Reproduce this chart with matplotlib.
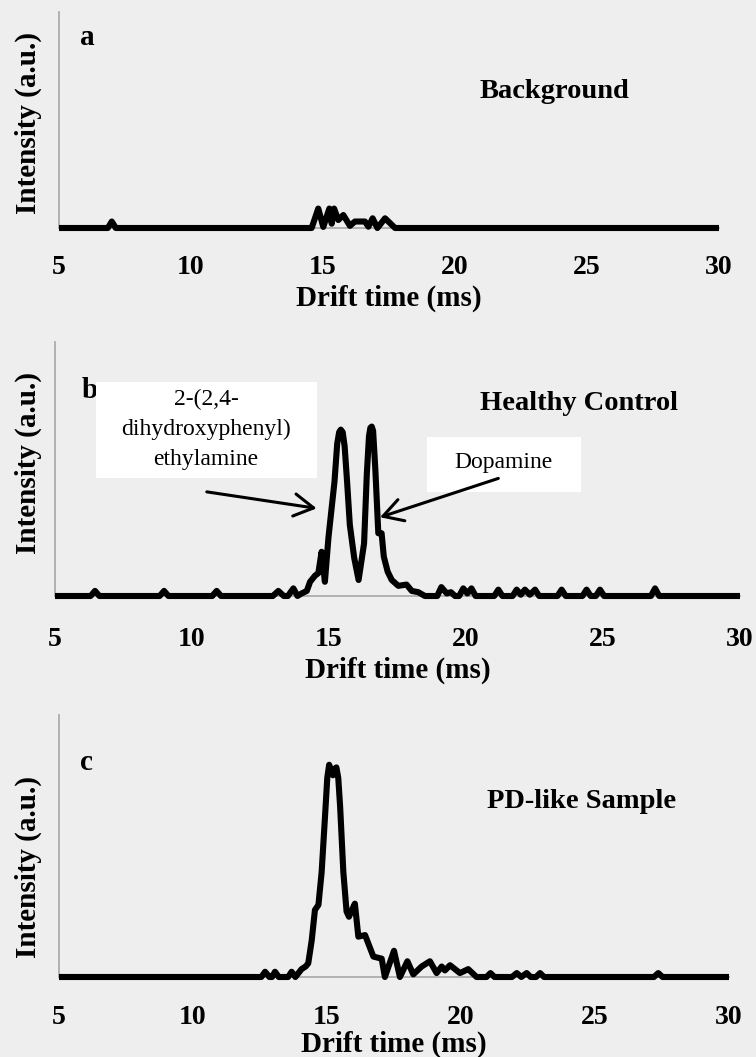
import matplotlib
matplotlib.use("Agg")
import matplotlib.pyplot as plt
from matplotlib.patches import Rectangle

plt.rcParams["font.family"] = ["Liberation Serif", "DejaVu Serif"]

# drift-time traces (ms, normalised intensity)
bg_time = [5.0, 6.85, 7.0, 7.15, 14.57, 14.82, 15.01, 15.24, 15.33, 15.42, 15.58,
           15.77, 16.02, 16.21, 16.59, 16.72, 16.88, 17.06, 17.35, 17.73, 30.0]
bg_int = [0, 0, 0.03, 0, 0, 0.09, 0.005, 0.09, 0.02, 0.09, 0.037,
          0.06, 0.01, 0.03, 0.03, 0.006, 0.045, 0, 0.045, 0, 0]

hc_time = [5.0, 6.3, 6.46, 6.62, 8.82, 8.98, 9.14, 10.74, 10.9, 11.06,
           12.95, 13.15, 13.35, 13.5, 13.7, 13.85, 14.0, 14.19, 14.31, 14.49,
           14.61, 14.73, 14.85, 14.98, 15.2, 15.3, 15.37, 15.43, 15.5, 15.57,
           15.66, 15.76, 15.92, 16.08, 16.28, 16.38, 16.46, 16.51, 16.56, 16.61,
           16.69, 16.80, 16.92, 17.0, 17.14, 17.29, 17.53, 17.83, 18.02, 18.26,
           18.5, 18.95, 19.1, 19.3, 19.45, 19.6, 19.75, 19.9, 20.05, 20.2,
           20.35, 21.03, 21.18, 21.33, 21.7, 21.85, 22.0, 22.15, 22.33, 22.52,
           22.67, 23.34, 23.49, 23.64, 24.25, 24.4, 24.55, 24.74, 24.89, 25.04,
           26.75, 26.9, 27.05, 30.0]
hc_int = [0, 0, 0.02, 0, 0, 0.02, 0, 0, 0.02, 0,
          0, 0.02, 0, 0, 0.03, 0, 0.01, 0.02, 0.056, 0.08,
          0.09, 0.174, 0.056, 0.23, 0.45, 0.6, 0.645, 0.655, 0.645, 0.59,
          0.45, 0.28, 0.15, 0.063, 0.207, 0.48, 0.63, 0.662, 0.667, 0.65,
          0.5, 0.247, 0.247, 0.155, 0.096, 0.063, 0.04, 0.045, 0.02, 0.015,
          0, 0, 0.035, 0.01, 0.015, 0, 0, 0.03, 0.01, 0.03,
          0, 0, 0.025, 0, 0, 0.025, 0.005, 0.025, 0.005, 0.025,
          0, 0, 0.025, 0, 0, 0.025, 0, 0, 0.025, 0,
          0, 0.03, 0, 0]

pd_time = [5.0, 12.55, 12.69, 12.85, 12.95, 13.06, 13.2, 13.55, 13.68, 13.82,
           14.05, 14.2, 14.3, 14.43, 14.55, 14.68, 14.8, 14.93, 15.01, 15.08,
           15.15, 15.22, 15.29, 15.35, 15.42, 15.49, 15.61, 15.73, 15.82, 15.95,
           16.04, 16.17, 16.42, 16.73, 17.04, 17.16, 17.5, 17.72, 18.0, 18.22,
           18.53, 18.84, 19.09, 19.28, 19.4, 19.59, 19.96, 20.27, 20.58, 20.95,
           21.1, 21.25, 21.9, 22.08, 22.25, 22.45, 22.6, 22.8, 22.95, 23.1,
           27.2, 27.36, 27.52, 30.0]
pd_int = [0, 0, 0.02, 0, 0, 0.02, 0, 0, 0.02, 0,
          0.03, 0.04, 0.052, 0.14, 0.256, 0.275, 0.40, 0.62, 0.76, 0.81,
          0.79, 0.77, 0.795, 0.80, 0.76, 0.65, 0.40, 0.25, 0.23, 0.26,
          0.28, 0.154, 0.16, 0.078, 0.07, 0.0, 0.10, 0.0, 0.06, 0.01,
          0.04, 0.06, 0.015, 0.04, 0.025, 0.045, 0.015, 0.03, 0, 0,
          0.015, 0, 0, 0.015, 0, 0.015, 0, 0, 0.015, 0,
          0, 0.015, 0, 0]

x_ticks = [5, 10, 15, 20, 25, 30]
panel_letters = ["a", "b", "c"]
panel_titles = ["Background", "Healthy Control", "PD-like Sample"]

W, H = 756, 1057
BG = "#eeeeee"
AXIS_GREY = "#a6a6a6"

fig = plt.figure(figsize=(W / 100, H / 100), dpi=100, facecolor=BG)


def px_axes(left, right, top, base):
    return fig.add_axes([left / W, (H - base) / H, (right - left) / W, (base - top) / H])


def style_axes(ax, tick_pad, xlab_off):
    ax.set_facecolor(BG)
    ax.set_xlim(5, 30)
    ax.set_ylim(0, 1)
    ax.set_xticks(x_ticks)
    ax.set_yticks([])
    for s in ("top", "right"):
        ax.spines[s].set_visible(False)
    for s in ("left", "bottom"):
        ax.spines[s].set_color(AXIS_GREY)
        ax.spines[s].set_linewidth(1.2)
        ax.spines[s].set_zorder(1)
    ax.tick_params(axis="x", length=0, pad=tick_pad, labelsize=20)
    for lab in ax.get_xticklabels():
        lab.set_fontweight("bold")
    ax.annotate("Drift time (ms)", xy=(0.5, 0), xycoords="axes fraction",
                xytext=(0, -xlab_off * 0.72), textcoords="offset points",
                ha="center", va="center", fontsize=21, fontweight="bold")


def trace(ax, t, y):
    ax.plot(t, y, color="black", linewidth=4.4, solid_joinstyle="round",
            solid_capstyle="butt", zorder=3, clip_on=False)


panels = [
    # left, right, top, baseline (px), tick pad, x-label offset, letter pos, title pos, ylabel centre
    (59, 719, 12, 228, 19.3, 70, (0.032, 0.847), (0.75, 0.602), 123),
    (55, 740, 342, 596, 22.2, 74, (0.039, 0.78), (0.765, 0.732), 463),
    (59, 729, 715, 977, 19.8, 67, (0.031, 0.79), (0.78, 0.645), 867),
]
series = [(bg_time, bg_int), (hc_time, hc_int), (pd_time, pd_int)]

axes = []
for (l, r, t, b, pad, xoff, lpos, tpos, yc), (tt, yy), letter, title in zip(
        panels, series, panel_letters, panel_titles):
    ax = px_axes(l, r, t, b)
    style_axes(ax, pad, xoff)
    trace(ax, tt, yy)
    ax.text(lpos[0], lpos[1], letter, transform=ax.transAxes, fontsize=21,
            fontweight="bold", ha="left", va="baseline")
    ax.text(tpos[0], tpos[1], title, transform=ax.transAxes, fontsize=20.5,
            fontweight="bold", ha="center", va="baseline")
    fig.text(28 / W, (H - yc) / H, "Intensity (a.u.)", rotation=90, fontsize=21,
             fontweight="bold", ha="center", va="center")
    axes.append(ax)

# compound labels on the healthy-control trace
axb = axes[1]
axb.add_patch(Rectangle((6.50, 0.465), 8.06, 0.378, facecolor="white",
                        edgecolor="none", zorder=4))
axb.text(10.51, 0.655, "2-(2,4-\ndihydroxyphenyl)\nethylamine", fontsize=17,
         ha="center", va="center", linespacing=1.55, zorder=5)
axb.add_patch(Rectangle((18.57, 0.408), 5.63, 0.219, facecolor="white",
                        edgecolor="none", zorder=4))
axb.text(21.37, 0.527, "Dopamine", fontsize=17, ha="center", va="center", zorder=5)

arrow_kw = dict(arrowstyle="->,head_length=0.7,head_width=0.4", color="black",
                lw=2.2, mutation_scale=20, shrinkA=0, shrinkB=0)
axb.annotate("", xy=(14.55, 0.345), xytext=(10.54, 0.41),
             arrowprops=arrow_kw, zorder=6)
axb.annotate("", xy=(16.86, 0.31), xytext=(21.18, 0.463),
             arrowprops=arrow_kw, zorder=6)

fig.savefig("out.png", dpi=100, facecolor=BG)
